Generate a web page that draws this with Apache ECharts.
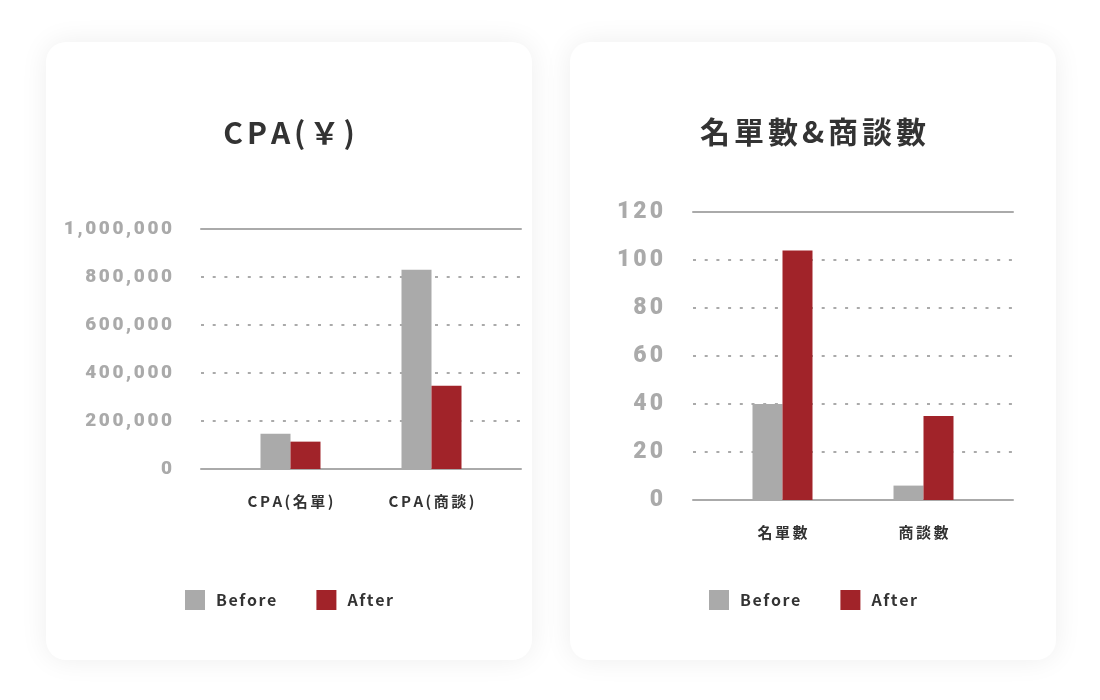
<!DOCTYPE html>
<html>
<head>
<meta charset="utf-8">
<script src="https://cdn.jsdelivr.net/npm/echarts@6/dist/echarts.min.js"></script>
<style>
  html, body { margin: 0; background: #fff; }
  .card {
    position: absolute;
    top: 42px;
    width: 486px;
    height: 618px;
    background: #fff;
    border-radius: 20px;
    box-shadow: 0 0 28px rgba(0, 0, 0, 0.07);
  }
</style>
</head>
<body>
<div class="card" id="cpa" style="left:46px"></div>
<div class="card" id="count" style="left:570px"></div>
<script>
// データ
const seriesNames = ['Before', 'After']
const cpaCategories = ['CPA(名單)', 'CPA(商談)']
const cpaBefore = [147000, 830000]
const cpaAfter = [114000, 347000]
const countCategories = ['名單數', '商談數']
const countBefore = [40, 6]
const countAfter = [104, 35]

const BEFORE_COLOR = '#aaaaaa'
const AFTER_COLOR = '#a12329'
const LINE_COLOR = '#aaa'
const JP_FONT = '"Noto Sans CJK JP", "Noto Sans", sans-serif'

// letter-spacing の代わりに 1 文字ずつ rich text にする
function spaced (str) {
  const chars = Array.from(str)
  return chars.map((c, i) => (i === chars.length - 1 ? '{e|' : '{c|') + c + '}').join('')
}

function richStyle (base, gap, lead) {
  return {
    c: Object.assign({}, base, { padding: [0, gap, 0, 0] }),
    e: Object.assign({}, base),
    l: Object.assign({}, base, { padding: [0, gap, 0, lead || 0] })
  }
}

function makeOption (cfg) {
  const titleBase = { fontFamily: JP_FONT, fontSize: 30, fontWeight: 'bold', color: '#333' }
  const yBase = { fontFamily: 'Roboto, sans-serif', fontSize: cfg.yFontSize, fontWeight: 900, color: '#aaa' }
  const xBase = { fontFamily: JP_FONT, fontSize: 15, fontWeight: 'bold', color: '#333' }
  const legendBase = { fontFamily: JP_FONT, fontSize: 16, fontWeight: 'bold', color: '#333' }

  return {
    animation: false,
    title: {
      text: spaced(cfg.title),
      left: 'center',
      top: cfg.titleTop,
      textStyle: Object.assign({}, titleBase, { rich: richStyle(titleBase, 4) })
    },
    legend: {
      data: seriesNames,
      left: 'center',
      top: 543,
      icon: 'rect',
      itemWidth: 20,
      itemHeight: 20,
      itemGap: 40,
      formatter: (name) => {
        const chars = Array.from(name)
        return chars.map((c, i) => (i === 0 ? '{l|' : i === chars.length - 1 ? '{e|' : '{c|') + c + '}').join('')
      },
      textStyle: Object.assign({}, legendBase, { rich: richStyle(legendBase, 1.6, 6) })
    },
    grid: [
      { left: cfg.gridLeft, top: cfg.gridTop, width: 320, height: cfg.gridHeight },
      { left: cfg.gridLeft + 19, top: cfg.gridTop, width: 282, height: cfg.gridHeight }
    ],
    xAxis: [
      {
        gridIndex: 0,
        type: 'category',
        data: cfg.categories,
        axisLine: { lineStyle: { color: LINE_COLOR, width: 2 } },
        axisTick: { show: false },
        axisLabel: { show: false }
      },
      {
        gridIndex: 0,
        type: 'category',
        position: 'top',
        data: cfg.categories,
        axisLine: { lineStyle: { color: LINE_COLOR, width: 2 } },
        axisTick: { show: false },
        axisLabel: { show: false }
      },
      {
        gridIndex: 1,
        type: 'category',
        data: cfg.categories,
        axisLine: { show: false },
        axisTick: { show: false },
        axisLabel: {
          interval: 0,
          margin: 25,
          formatter: (v) => spaced(v),
          rich: richStyle(xBase, 2.5)
        }
      }
    ],
    yAxis: [
      {
        gridIndex: 0,
        type: 'value',
        min: 0,
        max: cfg.yMax,
        interval: cfg.yInterval,
        axisLine: { show: false },
        axisTick: { show: false },
        splitLine: { lineStyle: { color: LINE_COLOR, width: 2, type: [3, 8.7] } },
        axisLabel: {
          margin: cfg.yMargin,
          formatter: (v) => spaced(v.toLocaleString('en-US')),
          rich: richStyle(yBase, cfg.yGap)
        }
      },
      {
        gridIndex: 1,
        type: 'value',
        min: 0,
        max: cfg.yMax,
        interval: cfg.yInterval,
        show: false
      }
    ],
    series: [
      {
        name: seriesNames[0],
        type: 'bar',
        xAxisIndex: 2,
        yAxisIndex: 1,
        barWidth: 30,
        barGap: '0%',
        itemStyle: { color: BEFORE_COLOR },
        data: cfg.before
      },
      {
        name: seriesNames[1],
        type: 'bar',
        xAxisIndex: 2,
        yAxisIndex: 1,
        barWidth: 30,
        barGap: '0%',
        itemStyle: { color: AFTER_COLOR },
        data: cfg.after
      }
    ]
  }
}

const cpaChart = echarts.init(document.getElementById('cpa'))
cpaChart.setOption(makeOption({
  title: 'CPA(￥)',
  titleTop: 71,
  categories: cpaCategories,
  before: cpaBefore,
  after: cpaAfter,
  yMax: 1000000,
  yInterval: 200000,
  yFontSize: 19,
  yGap: 2.6,
  yMargin: 29,
  gridLeft: 155,
  gridTop: 187,
  gridHeight: 240
}))

const countChart = echarts.init(document.getElementById('count'))
countChart.setOption(makeOption({
  title: '名單數&商談數',
  titleTop: 70,
  categories: countCategories,
  before: countBefore,
  after: countAfter,
  yMax: 120,
  yInterval: 20,
  yFontSize: 23,
  yGap: 3,
  yMargin: 30,
  gridLeft: 123,
  gridTop: 170,
  gridHeight: 288
}))
</script>
</body>
</html>
